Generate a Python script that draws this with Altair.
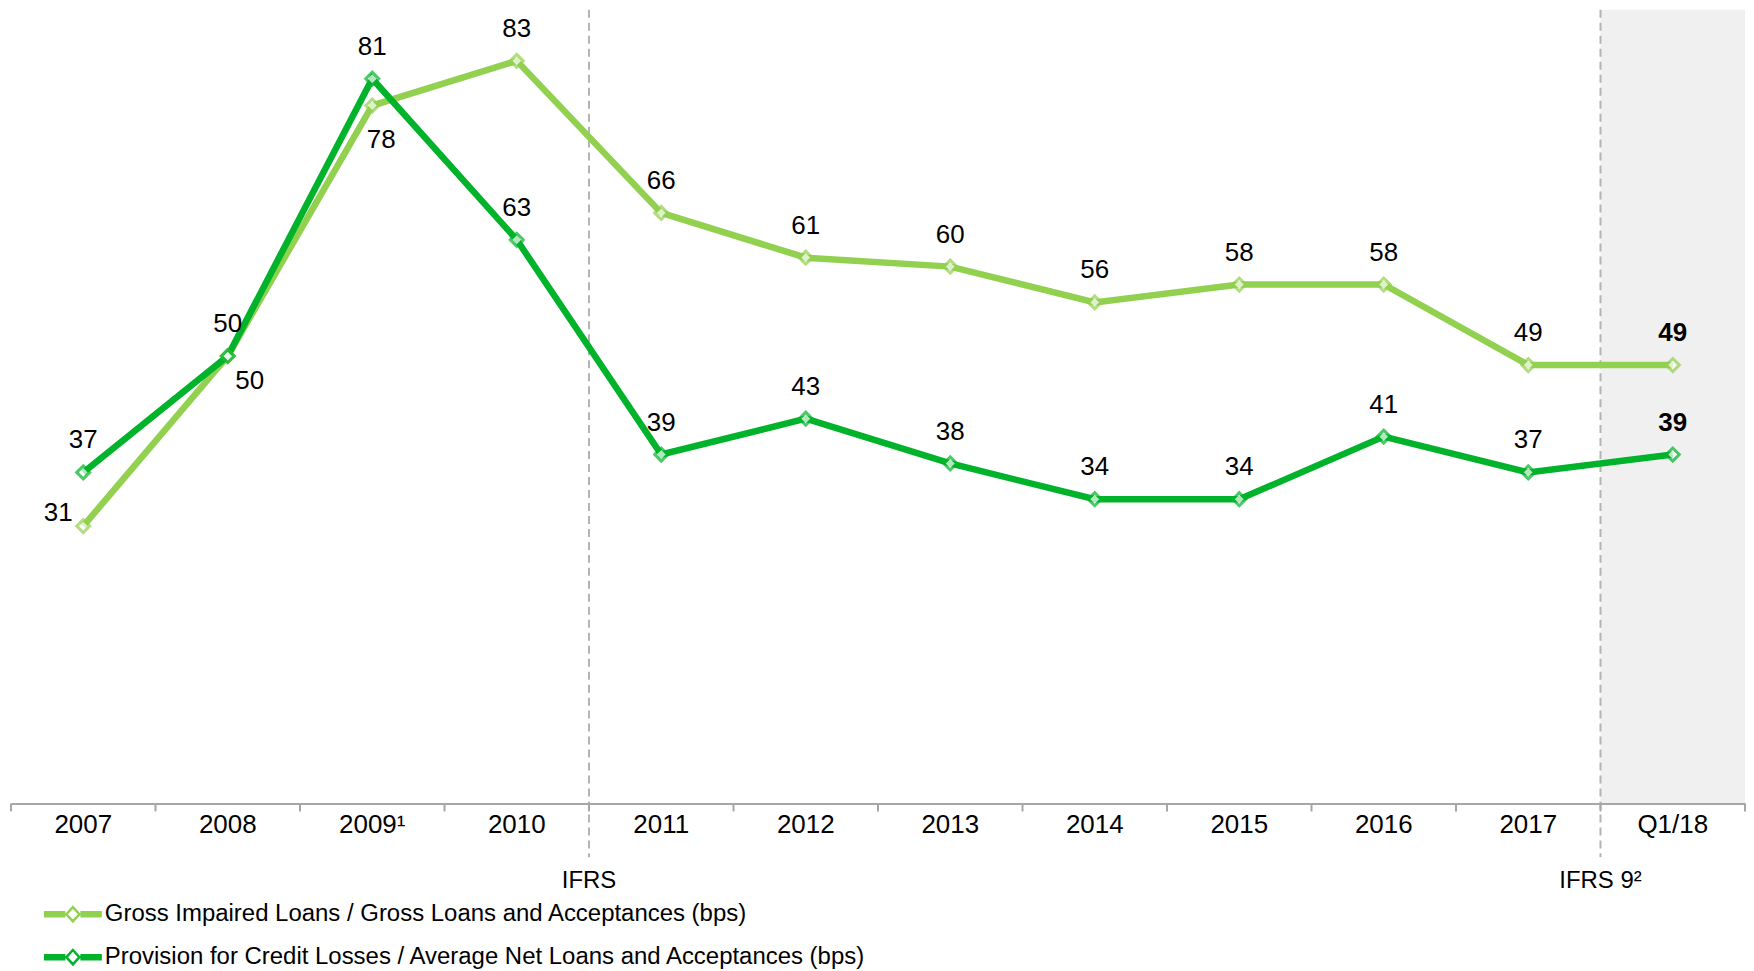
import altair as alt
import pandas as pd

categories = ["2007", "2008", "2009¹", "2010", "2011", "2012", "2013", "2014", "2015", "2016", "2017", "Q1/18"]
gross_impaired = [31, 50, 78, 83, 66, 61, 60, 56, 58, 58, 49, 49]
provision = [37, 50, 81, 63, 39, 43, 38, 34, 34, 41, 37, 39]
series_names = [
    "Gross Impaired Loans / Gross Loans and Acceptances (bps)",
    "Provision for Credit Losses / Average Net Loans and Acceptances (bps)",
]
boundary_labels = ["IFRS", "IFRS 9²"]
boundary_cats = ["2011", "Q1/18"]
shaded_cats = ["Q1/18"]

LIGHT = "#92D050"
DARK = "#00B32A"
GREY = "#A6A6A6"
FONT = "Liberation Sans"

rows = []
for c, v in zip(categories, gross_impaired):
    rows.append({"cat": c, "series": series_names[0], "value": v})
for c, v in zip(categories, provision):
    rows.append({"cat": c, "series": series_names[1], "value": v})
df = pd.DataFrame(rows)

W, H = 1737, 795
YMAX = 88.7

xscale = alt.Scale(domain=categories, paddingInner=0, paddingOuter=0)
xenc = alt.X("cat:N", sort=categories, title=None, scale=xscale,
             axis=alt.Axis(labelAngle=0, labelAlign="center", ticks=False, labelFontSize=26,
                           labelFont=FONT, labelColor="#000000", domainColor=GREY,
                           domainWidth=2, labelPadding=21))
yenc = alt.Y("value:Q", scale=alt.Scale(domain=[0, YMAX], nice=False, zero=True), axis=None)

# legend symbol: thick line with a hollow diamond in the middle (unit = 10px)
bar_l = "M-2.9,-0.2L-0.75,-0.2M-2.9,0L-0.75,0M-2.9,0.2L-0.75,0.2"
bar_r = "M0.75,-0.2L2.9,-0.2M0.75,0L2.9,0M0.75,0.2L2.9,0.2"
diamond = "M-0.65,0L0,-0.72L0.65,0L0,0.72Z"
symbol_path = bar_l + bar_r + diamond

color = alt.Color("series:N", scale=alt.Scale(domain=series_names, range=[LIGHT, DARK]),
                  legend=alt.Legend(title=None, orient="none", legendX=50, legendY=894,
                                    direction="vertical", symbolType=symbol_path,
                                    symbolStrokeWidth=2.5, symbolSize=400,
                                    symbolFillColor="white",
                                    labelFontSize=24, labelFont=FONT, labelColor="#000000",
                                    labelLimit=0, padding=0, rowPadding=17, labelOffset=20))

base = alt.Chart(df)

shade = alt.Chart(pd.DataFrame({"cat": shaded_cats})).mark_rect(color="#F0F0F0").encode(
    x=alt.X("cat:N", sort=categories, scale=xscale),
    y=alt.value(0), y2=alt.value(H))

tick_df = pd.DataFrame({"cat": categories})
ticks = alt.Chart(tick_df).mark_rule(color=GREY, strokeWidth=2).encode(
    x=alt.X("cat:N", sort=categories, bandPosition=0),
    y=alt.value(H), y2=alt.value(H + 8))
end_tick = alt.Chart(pd.DataFrame({"cat": categories[-1:]})).mark_rule(color=GREY, strokeWidth=2).encode(
    x=alt.X("cat:N", sort=categories, bandPosition=1),
    y=alt.value(H), y2=alt.value(H + 8))

bdf = pd.DataFrame({"cat": boundary_cats, "label": boundary_labels})
rules = alt.Chart(bdf).mark_rule(color="#B4B4B4", strokeDash=[8, 5], strokeWidth=2).encode(
    x=alt.X("cat:N", sort=categories, bandPosition=0),
    y=alt.value(0), y2=alt.value(H + 54))
blabels = alt.Chart(bdf).mark_text(fontSize=24, font=FONT, color="#000000", baseline="middle").encode(
    x=alt.X("cat:N", sort=categories, bandPosition=0),
    y=alt.value(H + 78), text="label:N")

lines = base.mark_line(strokeWidth=6.5).encode(x=xenc, y=yenc, color=color)
points = base.mark_point(shape="diamond", filled=True, fill="white", size=170, strokeWidth=3).encode(
    x=alt.X("cat:N", sort=categories), y="value:Q",
    stroke=alt.Stroke("series:N", scale=alt.Scale(domain=series_names, range=[LIGHT, DARK]), legend=None))

special = {
    (series_names[0], "2007"): (-25, -13),
    (series_names[0], "2008"): (22, 25),
    (series_names[0], "2009¹"): (9, 35),
}

def cond_for(s, c):
    return f"(datum.series === '{s}' && datum.cat === '{c}')"

special_expr = " || ".join(cond_for(s, c) for (s, c) in special)
last = categories[-1]

text_layers = []
default = base.transform_filter(f"!({special_expr}) && datum.cat !== '{last}'").mark_text(
    fontSize=26, font=FONT, color="#000000", dy=-32, baseline="middle").encode(
    x=alt.X("cat:N", sort=categories), y="value:Q", text="value:Q")
text_layers.append(default)
bold = base.transform_filter(f"datum.cat === '{last}'").mark_text(
    fontSize=26, font=FONT, fontWeight="bold", color="#000000", dy=-32, baseline="middle").encode(
    x=alt.X("cat:N", sort=categories), y="value:Q", text="value:Q")
text_layers.append(bold)
for (s, c), (dx, dy) in special.items():
    text_layers.append(base.transform_filter(cond_for(s, c)).mark_text(
        fontSize=26, font=FONT, color="#000000", dx=dx, dy=dy, baseline="middle").encode(
        x=alt.X("cat:N", sort=categories), y="value:Q", text="value:Q"))

chart = alt.layer(shade, rules, ticks, end_tick, blabels, lines, points, *text_layers).properties(
    width=W, height=H, padding={"left": 2, "top": 0, "right": 0, "bottom": 0}
).configure(font=FONT).configure_view(stroke=None)

chart.save("out.html", embed_options={"renderer": "svg", "actions": False})
